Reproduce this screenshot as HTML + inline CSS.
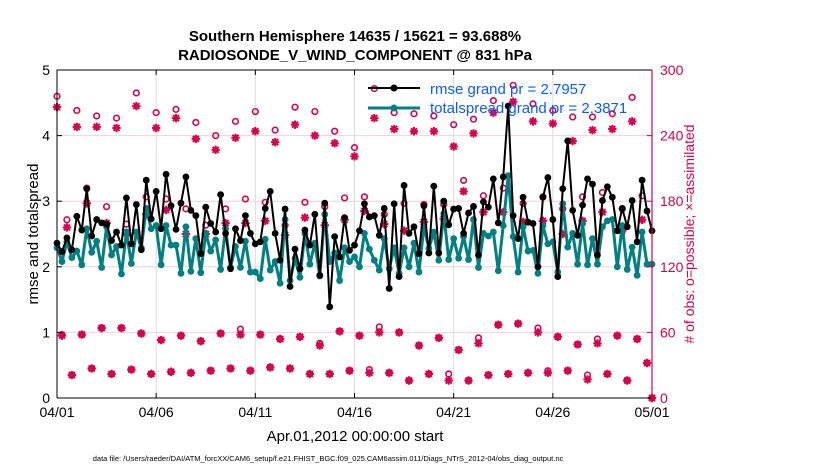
<!DOCTYPE html>
<html><head><meta charset="utf-8"><style>
body{margin:0;background:#fff;}
svg{display:block;font-family:"Liberation Sans",sans-serif;}
</style></head><body>
<svg id="chart" width="830" height="470" viewBox="0 0 830 470">
<g id="grid"></g>
<g id="obs"></g>
<g id="lines"></g>
<g id="axes"></g>
<text x="355" y="41" text-anchor="middle" font-size="15" font-weight="bold">Southern Hemisphere 14635 / 15621 = 93.688%</text>
<text x="355" y="60" text-anchor="middle" font-size="15" font-weight="bold">RADIOSONDE_V_WIND_COMPONENT @ 831 hPa</text>
<text transform="translate(38,234) rotate(-90)" text-anchor="middle" font-size="15">rmse and totalspread</text>
<text transform="translate(694,234) rotate(-90)" text-anchor="middle" font-size="14" fill="#d6004f"># of obs: o=possible; ×=assimilated</text>
<text x="355" y="441" text-anchor="middle" font-size="15">Apr.01,2012 00:00:00 start</text>
<text x="328" y="461" text-anchor="middle" font-size="7.5">data file: /Users/raeder/DAI/ATM_forcXX/CAM6_setup/f.e21.FHIST_BGC.f09_025.CAM6assim.011/Diags_NTrS_2012-04/obs_diag_output.nc</text>
<g>
<g>
<line x1="368" y1="88" x2="420" y2="88" stroke="#000" stroke-width="2"/><circle cx="394" cy="88" r="3.5" fill="#000"/>
<text x="430" y="94" font-size="15" fill="#0a5cff">rmse grand pr = 2.7957</text></g>
<g>
<line x1="368" y1="108" x2="420" y2="108" stroke="#008080" stroke-width="3"/><circle cx="394" cy="108" r="3.5" fill="#008080"/>
<text x="430" y="113" font-size="15" fill="#0a5cff">totalspread grand pr = 2.3871</text></g>
</g>
</svg>
<script>
const tickLabelsX=["04/01","04/06","04/11","04/16","04/21","04/26","05/01"];
const tickDaysX=[0,5,10,15,20,25,30];
const tickLeft=[0,1,2,3,4,5];
const tickRight=[0,60,120,180,240,300];
const rmse=[2.36,2.23,2.44,2.26,2.77,2.56,3.19,2.47,2.72,2.67,2.65,2.40,2.53,2.33,3.05,2.35,2.95,2.26,3.32,2.73,3.15,2.58,3.41,2.93,2.57,2.97,3.37,2.86,2.78,2.20,2.91,2.66,2.53,3.10,2.51,1.97,2.58,2.40,2.78,2.51,
2.35,2.38,2.89,3.15,2.51,2.10,2.88,1.70,2.27,1.97,2.56,2.33,2.80,1.87,2.97,1.39,2.46,2.15,2.75,2.25,2.33,2.55,2.96,2.76,2.78,2.48,2.89,1.67,2.96,1.85,3.24,2.51,2.61,2.20,2.93,2.21,3.23,2.21,3.00,2.64,2.88,
2.89,2.51,2.82,2.92,2.18,2.99,2.91,3.34,2.67,3.37,4.45,2.78,2.43,3.06,2.68,2.66,2.00,3.06,3.36,2.72,1.85,3.19,3.92,2.86,2.48,2.94,3.34,3.26,2.18,3.01,3.22,3.06,2.55,2.89,2.61,3.01,2.38,3.32,2.85,2.55];
const spread=[2.29,2.08,2.38,2.14,2.24,2.03,2.58,2.22,2.39,1.99,2.61,2.18,2.31,1.89,2.53,2.05,2.53,2.29,2.89,2.58,2.63,2.03,2.63,2.33,2.33,1.90,2.61,1.93,2.43,1.91,2.51,2.24,2.41,1.96,2.58,1.99,2.31,1.99,2.39,1.92,
1.92,1.82,2.42,1.95,2.08,1.75,2.72,1.79,2.13,1.84,2.51,2.04,2.36,1.86,2.80,2.08,2.21,1.79,2.29,2.08,2.15,2.00,2.51,2.27,2.10,1.95,2.43,1.97,2.29,1.90,2.29,2.00,2.36,1.92,2.61,2.28,2.53,2.10,2.81,2.11,2.43,
2.13,2.46,2.11,2.72,1.99,2.51,2.47,2.53,1.94,2.63,3.39,2.46,1.92,2.61,2.24,2.25,1.90,2.63,2.35,2.38,1.92,2.96,2.30,2.51,2.04,2.66,2.03,2.43,2.04,2.61,2.70,2.72,2.00,2.63,1.96,2.30,1.87,2.53,2.04,2.04];
const possible=[276,58,163,21,263,58,192,27,258,64,175,22,256,64,159,26,279,59,184,22,261,53,182,24,264,57,173,23,252,52,158,25,240,59,173,27,253,63,182,25,
262,58,179,28,245,54,158,27,266,56,179,22,262,50,175,22,244,61,183,25,229,57,184,26,283,65,168,23,261,60,178,16,260,48,177,22,258,55,177,22,
250,44,199,16,255,55,185,21,272,67,192,22,286,68,178,23,269,64,184,25,263,56,173,25,257,49,184,21,257,54,188,22,260,57,173,16,275,54,185,32,0];
const assimilated=[266,57,156,21,248,58,178,27,248,64,160,22,247,64,151,26,267,59,168,22,247,53,172,24,256,57,150,23,237,52,150,25,227,59,160,27,238,58,160,25,
244,58,162,28,234,54,149,27,250,56,165,22,240,48,158,22,233,61,163,25,221,57,171,23,256,60,159,23,246,60,153,16,244,48,161,22,244,55,164,16,
230,44,189,16,242,50,170,21,261,67,170,22,271,68,161,23,253,60,162,23,251,56,150,25,235,49,162,17,245,50,170,22,246,57,153,16,253,54,163,32,0];

const NS="http://www.w3.org/2000/svg";
const X0=57,X1=652,Y0=398,Y1=70,MAG="#d6004f";
const xDay=d=>X0+(X1-X0)*d/30;
const xIdx=i=>xDay(i*0.25);
const yL=v=>Y0-(Y0-Y1)*v/5;
const yR=v=>Y0-(Y0-Y1)*v/300;
function mk(tag,attrs,parent){const e=document.createElementNS(NS,tag);for(const k in attrs)e.setAttribute(k,attrs[k]);parent.appendChild(e);return e;}
const grid=document.getElementById('grid'),axes=document.getElementById('axes'),obs=document.getElementById('obs'),lines=document.getElementById('lines');
mk('rect',{x:X0,y:Y1,width:X1-X0,height:Y0-Y1,fill:'#fff'},grid);
tickDaysX.forEach((d,i)=>{
  const gl=mk('line',{x1:xDay(d),x2:xDay(d),y1:Y1,y2:Y0,stroke:'#dcdcdc','stroke-width':1},grid);
  
  
  const t=mk('text',{x:xDay(d),y:Y0+19,'text-anchor':'middle','font-size':14},axes);t.textContent=tickLabelsX[i];
  
  
  mk('line',{x1:xDay(d),x2:xDay(d),y1:Y0,y2:Y0-5,stroke:'#000'},axes);
  mk('line',{x1:xDay(d),x2:xDay(d),y1:Y1,y2:Y1+5,stroke:'#000'},axes);
});
tickRight.forEach(v=>{
  if(v>0&&v<300){const gl=mk('line',{x1:X0,x2:X1,y1:yR(v),y2:yR(v),stroke:'#f2d0dc','stroke-width':1},grid);
  
  }
  const t=mk('text',{x:X1+8,y:yR(v)+5,'font-size':14,fill:MAG},axes);t.textContent=v;
  
  
  mk('line',{x1:X1,x2:X1-5,y1:yR(v),y2:yR(v),stroke:MAG},axes);
});
tickLeft.forEach(v=>{
  const t=mk('text',{x:X0-7,y:yL(v)+5,'text-anchor':'end','font-size':14},axes);t.textContent=v;
  
  
  mk('line',{x1:X0,x2:X0+5,y1:yL(v),y2:yL(v),stroke:'#000'},axes);
});
mk('path',{d:`M${X0},${Y0}H${X1}M${X0},${Y0}V${Y1}H${X1}`,stroke:'#000',fill:'none','stroke-width':1},axes);
mk('line',{x1:X1,x2:X1,y1:Y1,y2:Y0,stroke:MAG,'stroke-width':1.2},axes);
// obs markers
possible.forEach((v,i)=>{
  const c=mk('circle',{cx:xIdx(i),cy:yR(v),r:2.8,fill:'none',stroke:MAG,'stroke-width':1.6},obs);
  
  
});
assimilated.forEach((v,i)=>{
  const x=xIdx(i),y=yR(v),r=4.2,d=r*0.72;
  const s=mk('path',{d:`M${x-r},${y}H${x+r}M${x},${y-r}V${y+r}M${x-d},${y-d}L${x+d},${y+d}M${x-d},${y+d}L${x+d},${y-d}`,stroke:MAG,'stroke-width':2},obs);
  
  
});
function series(arr,color,w,name){
  const p=mk('polyline',{points:arr.map((v,i)=>xIdx(i)+','+yL(v)).join(' '),fill:'none',stroke:color,'stroke-width':w,'stroke-linejoin':'round'},lines);
  
  
  arr.forEach((v,i)=>{
    const c=mk('circle',{cx:xIdx(i),cy:yL(v),r:3.4,fill:color},lines);
    
    
  });
}
series(spread,'#008080',3,'totalspread');
series(rmse,'#000',2,'rmse');
</script>
</body></html>
